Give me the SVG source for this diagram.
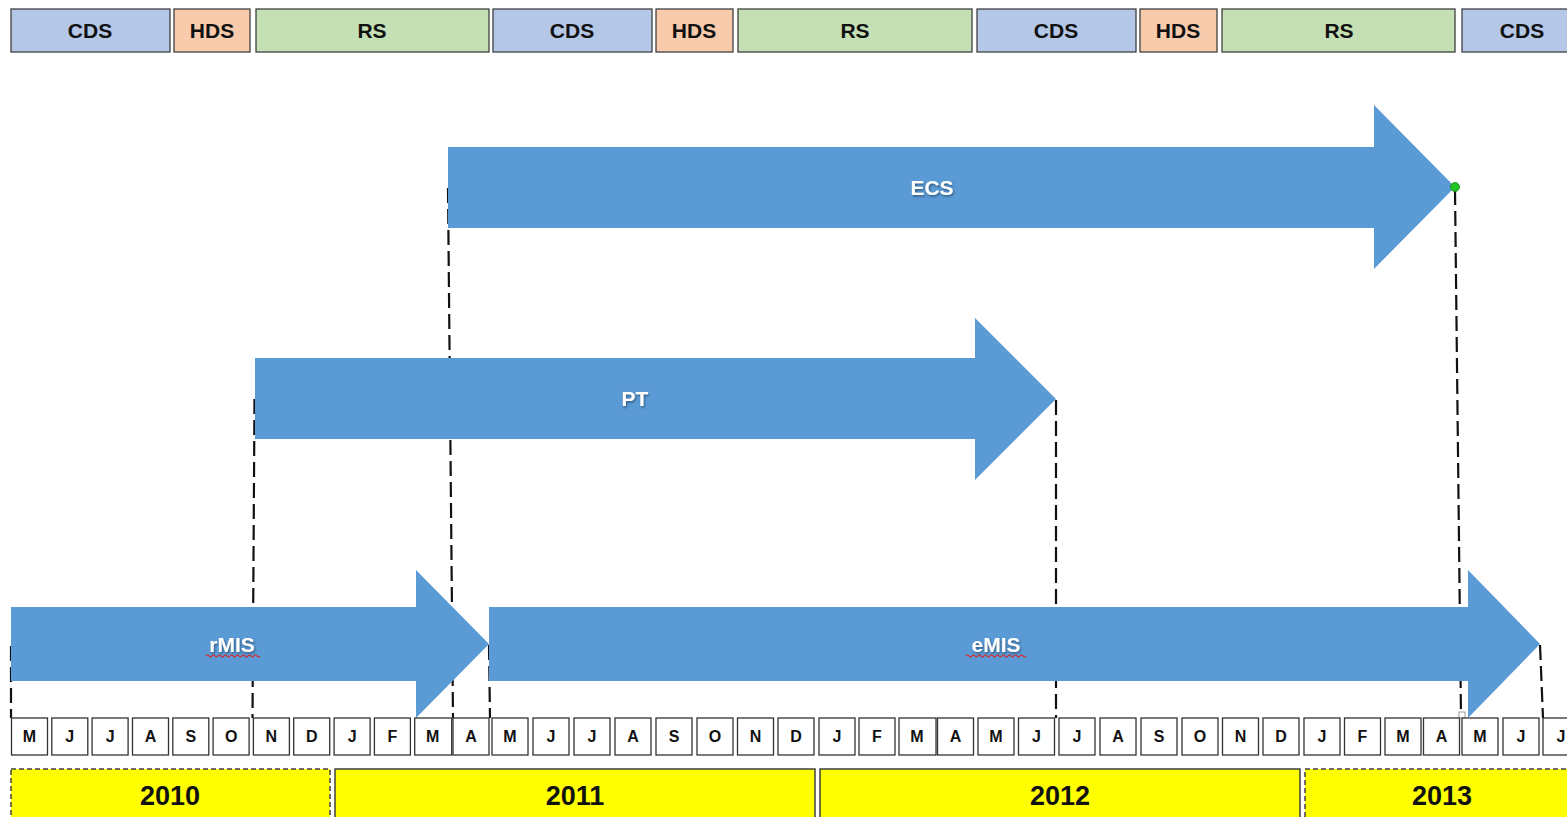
<svg xmlns="http://www.w3.org/2000/svg" width="1567" height="817" viewBox="0 0 1567 817">
<style>
.ph{stroke:#404040;stroke-width:1.3}
.cds{fill:#b4c7e7}
.hds{fill:#f8cbad}
.rs{fill:#c5e0b4}
.pt{font-family:"Liberation Sans",Arial,sans-serif;font-weight:bold;font-size:21px;fill:#111;text-anchor:middle}
.arr{fill:#5b9bd5}
.al{font-family:"Liberation Sans",Arial,sans-serif;font-weight:bold;font-size:21px;fill:#fff;text-anchor:middle;filter:url(#sh)}
.mb{fill:#fff;stroke:#333;stroke-width:1.3}
.mt{font-family:"Liberation Sans",Arial,sans-serif;font-weight:bold;font-size:16px;fill:#111;text-anchor:middle}
.yb{fill:#ffff00;stroke:#404040;stroke-width:1.5}
.yd{stroke-dasharray:5 3}
.yt{font-family:"Liberation Sans",Arial,sans-serif;font-weight:bold;font-size:27px;fill:#111;text-anchor:middle}
.dl{stroke:#111;stroke-width:2.2;stroke-dasharray:15 6;fill:none}
.sq{stroke:#e02020;stroke-width:1.2;fill:none}
</style>
<defs>
<filter id="sh" x="-20%" y="-20%" width="140%" height="160%">
<feDropShadow dx="1" dy="1.5" stdDeviation="0.8" flood-color="#1f3d5c" flood-opacity="0.7"/>
</filter>
</defs>
<rect width="1567" height="817" fill="#fff"/>

<g id="phases">
<g id="p1"><rect class="ph cds" x="11" y="9" width="159" height="43"/><text class="pt" x="90" y="38">CDS</text></g>
<g id="p2"><rect class="ph hds" x="174" y="9" width="76" height="43"/><text class="pt" x="212" y="38">HDS</text></g>
<g id="p3"><rect class="ph rs" x="256" y="9" width="233" height="43"/><text class="pt" x="372" y="38">RS</text></g>
<g id="p4"><rect class="ph cds" x="493" y="9" width="159" height="43"/><text class="pt" x="572" y="38">CDS</text></g>
<g id="p5"><rect class="ph hds" x="656" y="9" width="77" height="43"/><text class="pt" x="694" y="38">HDS</text></g>
<g id="p6"><rect class="ph rs" x="738" y="9" width="234" height="43"/><text class="pt" x="855" y="38">RS</text></g>
<g id="p7"><rect class="ph cds" x="977" y="9" width="159" height="43"/><text class="pt" x="1056" y="38">CDS</text></g>
<g id="p8"><rect class="ph hds" x="1140" y="9" width="77" height="43"/><text class="pt" x="1178" y="38">HDS</text></g>
<g id="p9"><rect class="ph rs" x="1222" y="9" width="233" height="43"/><text class="pt" x="1339" y="38">RS</text></g>
<g id="p10"><rect class="ph cds" x="1462" y="9" width="120" height="43"/><text class="pt" x="1522" y="38">CDS</text></g>
</g>

<g id="connectors">
<path class="dl" d="M11 646 L11 718"/>
<path class="dl" d="M254.5 399 L252.5 718"/>
<path class="dl" d="M448 188 L453 718"/>
<path class="dl" d="M489 645 L490 718"/>
<path class="dl" d="M1056 400 L1056 718"/>
<path class="dl" d="M1455 190 L1461 716"/>
<path class="dl" d="M1540 645 L1543 718"/>
</g>

<g id="ecs">
<polygon class="arr" points="448,147 1374,147 1374,105 1455,187 1374,269 1374,228 448,228"/>
<text class="al" x="932" y="195">ECS</text>
<circle cx="1455" cy="187" r="4.5" fill="#22c322" stroke="#118811" stroke-width="0.8"/>
</g>
<g id="pt">
<polygon class="arr" points="255,358 975,358 975,318 1056,399 975,480 975,439 255,439"/>
<text class="al" x="635" y="406">PT</text>
</g>
<g id="rmis">
<polygon class="arr" points="11,607 416,607 416,570 489,644 416,718 416,681 11,681"/>
<text class="al" x="232" y="652">rMIS</text>
<path class="sq" d="M206 656 q1.5 -2 3 0 t3 0 t3 0 t3 0 t3 0 t3 0 t3 0 t3 0 t3 0 t3 0 t3 0 t3 0 t3 0 t3 0 t3 0 t3 0 t3 0 t3 0"/>
</g>
<g id="emis">
<polygon class="arr" points="489,607 1468,607 1468,570 1540,644 1468,718 1468,681 489,681"/>
<text class="al" x="996" y="652">eMIS</text>
<path class="sq" d="M966 656 q1.5 -2 3 0 t3 0 t3 0 t3 0 t3 0 t3 0 t3 0 t3 0 t3 0 t3 0 t3 0 t3 0 t3 0 t3 0 t3 0 t3 0 t3 0 t3 0 t3 0 t3 0"/>
</g>
<rect x="1459" y="712" width="6" height="6" fill="#fff" stroke="#888" stroke-width="0.8"/>

<g id="months">
<g transform="translate(29.5,0)"><rect class="mb" x="-18" y="718" width="36" height="37"/><text class="mt" x="0" y="742">M</text></g>
<g transform="translate(69.8,0)"><rect class="mb" x="-18" y="718" width="36" height="37"/><text class="mt" x="0" y="742">J</text></g>
<g transform="translate(110.1,0)"><rect class="mb" x="-18" y="718" width="36" height="37"/><text class="mt" x="0" y="742">J</text></g>
<g transform="translate(150.5,0)"><rect class="mb" x="-18" y="718" width="36" height="37"/><text class="mt" x="0" y="742">A</text></g>
<g transform="translate(190.8,0)"><rect class="mb" x="-18" y="718" width="36" height="37"/><text class="mt" x="0" y="742">S</text></g>
<g transform="translate(231.1,0)"><rect class="mb" x="-18" y="718" width="36" height="37"/><text class="mt" x="0" y="742">O</text></g>
<g transform="translate(271.4,0)"><rect class="mb" x="-18" y="718" width="36" height="37"/><text class="mt" x="0" y="742">N</text></g>
<g transform="translate(311.7,0)"><rect class="mb" x="-18" y="718" width="36" height="37"/><text class="mt" x="0" y="742">D</text></g>
<g transform="translate(352.1,0)"><rect class="mb" x="-18" y="718" width="36" height="37"/><text class="mt" x="0" y="742">J</text></g>
<g transform="translate(392.4,0)"><rect class="mb" x="-18" y="718" width="36" height="37"/><text class="mt" x="0" y="742">F</text></g>
<g transform="translate(432.7,0)"><rect class="mb" x="-18" y="718" width="37" height="37"/><text class="mt" x="0" y="742">M</text></g>
<g transform="translate(471,0)"><rect class="mb" x="-18" y="718" width="36" height="37"/><text class="mt" x="0" y="742">A</text></g>
<g transform="translate(510,0)"><rect class="mb" x="-18" y="718" width="36" height="37"/><text class="mt" x="0" y="742">M</text></g>
<g transform="translate(551,0)"><rect class="mb" x="-18" y="718" width="36" height="37"/><text class="mt" x="0" y="742">J</text></g>
<g transform="translate(592,0)"><rect class="mb" x="-18" y="718" width="36" height="37"/><text class="mt" x="0" y="742">J</text></g>
<g transform="translate(633,0)"><rect class="mb" x="-18" y="718" width="36" height="37"/><text class="mt" x="0" y="742">A</text></g>
<g transform="translate(674,0)"><rect class="mb" x="-18" y="718" width="36" height="37"/><text class="mt" x="0" y="742">S</text></g>
<g transform="translate(715,0)"><rect class="mb" x="-18" y="718" width="36" height="37"/><text class="mt" x="0" y="742">O</text></g>
<g transform="translate(755.5,0)"><rect class="mb" x="-18" y="718" width="36" height="37"/><text class="mt" x="0" y="742">N</text></g>
<g transform="translate(796,0)"><rect class="mb" x="-18" y="718" width="36" height="37"/><text class="mt" x="0" y="742">D</text></g>
<g transform="translate(837,0)"><rect class="mb" x="-18" y="718" width="36" height="37"/><text class="mt" x="0" y="742">J</text></g>
<g transform="translate(877,0)"><rect class="mb" x="-18" y="718" width="36" height="37"/><text class="mt" x="0" y="742">F</text></g>
<g transform="translate(917,0)"><rect class="mb" x="-18" y="718" width="37" height="37"/><text class="mt" x="0" y="742">M</text></g>
<g transform="translate(955.5,0)"><rect class="mb" x="-18" y="718" width="36" height="37"/><text class="mt" x="0" y="742">A</text></g>
<g transform="translate(996,0)"><rect class="mb" x="-18" y="718" width="36" height="37"/><text class="mt" x="0" y="742">M</text></g>
<g transform="translate(1036.5,0)"><rect class="mb" x="-18" y="718" width="36" height="37"/><text class="mt" x="0" y="742">J</text></g>
<g transform="translate(1077,0)"><rect class="mb" x="-18" y="718" width="36" height="37"/><text class="mt" x="0" y="742">J</text></g>
<g transform="translate(1118,0)"><rect class="mb" x="-18" y="718" width="36" height="37"/><text class="mt" x="0" y="742">A</text></g>
<g transform="translate(1159,0)"><rect class="mb" x="-18" y="718" width="36" height="37"/><text class="mt" x="0" y="742">S</text></g>
<g transform="translate(1200,0)"><rect class="mb" x="-18" y="718" width="36" height="37"/><text class="mt" x="0" y="742">O</text></g>
<g transform="translate(1240.5,0)"><rect class="mb" x="-18" y="718" width="36" height="37"/><text class="mt" x="0" y="742">N</text></g>
<g transform="translate(1281,0)"><rect class="mb" x="-18" y="718" width="36" height="37"/><text class="mt" x="0" y="742">D</text></g>
<g transform="translate(1322,0)"><rect class="mb" x="-18" y="718" width="36" height="37"/><text class="mt" x="0" y="742">J</text></g>
<g transform="translate(1362.5,0)"><rect class="mb" x="-18" y="718" width="36" height="37"/><text class="mt" x="0" y="742">F</text></g>
<g transform="translate(1403,0)"><rect class="mb" x="-18" y="718" width="36" height="37"/><text class="mt" x="0" y="742">M</text></g>
<g transform="translate(1441.5,0)"><rect class="mb" x="-18" y="718" width="36" height="37"/><text class="mt" x="0" y="742">A</text></g>
<g transform="translate(1480,0)"><rect class="mb" x="-18" y="718" width="36" height="37"/><text class="mt" x="0" y="742">M</text></g>
<g transform="translate(1521,0)"><rect class="mb" x="-18" y="718" width="36" height="37"/><text class="mt" x="0" y="742">J</text></g>
<g transform="translate(1561,0)"><rect class="mb" x="-18" y="718" width="36" height="37"/><text class="mt" x="0" y="742">J</text></g>
</g>

<g id="years">
<g id="y2010"><rect class="yb yd" x="11" y="769" width="319" height="60"/><text class="yt" x="170" y="805">2010</text></g>
<g id="y2011"><rect class="yb" x="335" y="769" width="480" height="60"/><text class="yt" x="575" y="805">2011</text></g>
<g id="y2012"><rect class="yb" x="820" y="769" width="480" height="60"/><text class="yt" x="1060" y="805">2012</text></g>
<g id="y2013"><rect class="yb yd" x="1305" y="769" width="280" height="60"/><text class="yt" x="1442" y="805">2013</text></g>
</g>
</svg>
